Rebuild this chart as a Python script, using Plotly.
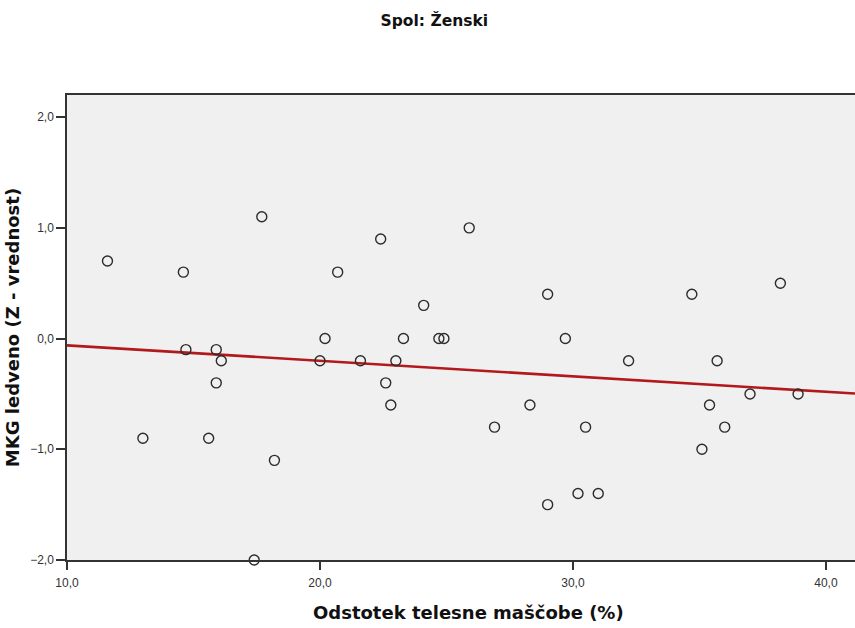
import numpy as np
import plotly.graph_objects as go

fat_pct = [11.6, 13.0, 14.6, 14.7, 15.6, 15.9, 15.9, 16.1, 17.4, 17.7, 18.2,
           20.0, 20.2, 20.7, 21.6, 22.4, 22.6, 22.8, 23.0, 23.3, 24.1, 24.7,
           24.9, 25.9, 26.9, 28.3, 29.0, 29.0, 29.7, 30.2, 30.5, 31.0, 32.2,
           34.7, 35.1, 35.4, 35.7, 36.0, 37.0, 38.2, 38.9]
z_score = [0.7, -0.9, 0.6, -0.1, -0.9, -0.1, -0.4, -0.2, -2.0, 1.1, -1.1,
           -0.2, 0.0, 0.6, -0.2, 0.9, -0.4, -0.6, -0.2, 0.0, 0.3, 0.0,
           0.0, 1.0, -0.8, -0.6, 0.4, -1.5, 0.0, -1.4, -0.8, -1.4, -0.2,
           0.4, -1.0, -0.6, -0.2, -0.8, -0.5, 0.5, -0.5]

x_range = [10.0, 41.15]
y_range = [-2.0, 2.2]
x_ticks = [10, 20, 30, 40]
y_ticks = [-2, -1, 0, 1, 2]

slope, intercept = np.polyfit(fat_pct, z_score, 1)
fit_x = np.array(x_range)
fit_y = intercept + slope * fit_x

title_font = "DejaVu Sans, Verdana, sans-serif"

fig = go.Figure()
fig.add_trace(go.Scatter(
    x=fit_x, y=fit_y, mode="lines",
    line=dict(color="#B2191C", width=2.6),
    showlegend=False, hoverinfo="skip", cliponaxis=True))
fig.add_trace(go.Scatter(
    x=fat_pct, y=z_score, mode="markers",
    marker=dict(symbol="circle-open", size=10, color="#2b2b2b",
                line=dict(width=1.4, color="#2b2b2b")),
    showlegend=False, cliponaxis=False))

fig.add_annotation(
    text="<b>Odstotek telesne maščobe (%)</b>",
    xref="paper", yref="paper", x=0.51, y=-0.112,
    xanchor="center", yanchor="middle", showarrow=False,
    font=dict(family=title_font, size=18, color="#111"))

fig.update_layout(
    width=855, height=628,
    margin=dict(l=67, r=0, t=95, b=68),
    paper_bgcolor="white", plot_bgcolor="#F0F0F0",
    separators=", ",
    font=dict(family="Liberation Sans, Arial, sans-serif", color="#222"),
    title=dict(text="<b>Spol: Ženski</b>", x=0.508, xanchor="center",
               y=1 - 21 / 628, yanchor="middle",
               font=dict(family=title_font, size=15.5, color="#111")),
    xaxis=dict(range=x_range, tickvals=x_ticks, tickformat=".1f",
               showgrid=False, zeroline=False,
               showline=True, linecolor="#333", linewidth=1.5, mirror=True,
               ticks="outside", ticklen=8, tickwidth=1.5, tickcolor="#333",
               ticklabelstandoff=3,
               tickfont=dict(size=12, color="#333")),
    yaxis=dict(range=y_range, tickvals=y_ticks, tickformat=".1f",
               showgrid=False, zeroline=False,
               showline=True, linecolor="#333", linewidth=1.5,
               ticks="outside", ticklen=9, tickwidth=1.5, tickcolor="#333",
               tickfont=dict(size=12, color="#333"),
               title=dict(text="<b>MKG ledveno (Z - vrednost)</b>",
                          font=dict(family=title_font, size=18, color="#111"),
                          standoff=6)),
)

fig.write_html("out.html")
